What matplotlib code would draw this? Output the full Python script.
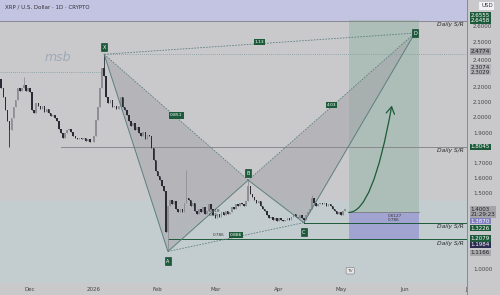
import numpy as np
import pandas as pd
import matplotlib
matplotlib.use("Agg")
import matplotlib.pyplot as plt
import matplotlib.dates as mdates
from matplotlib.patches import Polygon, Rectangle

# daily closes XRP/USD, 2025-11-17 .. 2026-05-03
closes = [
    2.20, 2.14, 2.05, 1.98, 1.92, 2.00, 2.07, 2.12, 2.20, 2.18, 2.20, 2.22, 2.18, 2.20,
    2.17, 2.05, 2.03, 2.10, 2.08, 2.06, 2.08, 2.04, 2.06, 2.03, 2.01, 2.02, 2.00, 1.98,
    1.93, 1.90, 1.87, 1.90, 1.92, 1.93, 1.91, 1.88, 1.87, 1.86, 1.87, 1.86, 1.87, 1.85,
    1.86, 1.84, 1.84, 1.88, 1.99, 2.07, 2.20, 2.33, 2.28, 2.14, 2.10, 2.12, 2.07, 2.08,
    2.06, 2.08, 2.14, 2.07, 2.05, 2.02, 1.98, 1.95, 1.97, 1.92, 1.94, 1.90, 1.88, 1.91,
    1.86, 1.89, 1.88, 1.80, 1.72, 1.65, 1.62, 1.59, 1.55, 1.52, 1.25, 1.42, 1.46, 1.43,
    1.45, 1.40, 1.38, 1.40, 1.38, 1.44, 1.47, 1.46, 1.42, 1.44, 1.39, 1.37, 1.40, 1.38,
    1.41, 1.37, 1.39, 1.43, 1.40, 1.36, 1.34, 1.37, 1.35, 1.38, 1.36, 1.39, 1.37, 1.38,
    1.41, 1.40, 1.43, 1.42, 1.44, 1.43, 1.42, 1.45, 1.55, 1.50, 1.48, 1.46, 1.44, 1.45,
    1.42, 1.40, 1.39, 1.36, 1.34, 1.35, 1.33, 1.34, 1.32, 1.34, 1.33, 1.32, 1.33, 1.34,
    1.33, 1.35, 1.37, 1.35, 1.34, 1.36, 1.34, 1.33, 1.36, 1.38, 1.40, 1.47, 1.44, 1.42,
    1.43, 1.44, 1.43, 1.44, 1.42, 1.43, 1.42, 1.40, 1.39, 1.37, 1.38, 1.36, 1.39, 1.40,
]
first_open = 2.26
wick_highs = {"2025-11-28": 2.27, "2026-01-06": 2.42, "2026-02-15": 1.66,
              "2026-03-17": 1.59, "2026-04-17": 1.49}
wick_lows = {"2025-11-21": 1.81, "2026-02-06": 1.12, "2026-04-13": 1.31}

# XABCD pattern
pat_names = ["X", "A", "B", "C", "D"]
pat_dates = ["2026-01-06", "2026-02-06", "2026-03-17", "2026-04-13", "2026-06-06"]
pat_prices = [2.42, 1.12, 1.59, 1.31, 2.56]
ratio_text = {"XB": "0.851", "XD": "1.13", "BD": "4.03", "AC": "0.886"}

# long position tool
pos_start, pos_end = "2026-05-05", "2026-06-08"
pos_target, pos_entry, pos_stop = 2.646, 1.38, 1.195

price_ticks = [2.6, 2.5, 2.4, 2.2, 2.1, 2.0, 1.9, 1.7, 1.6, 1.5, 1.0]
# (text, price, face, text colour)
tags = [
    ("2.6555", 2.679, "#1d5a3a", "white"),
    ("2.6458", 2.640, "#1d5a3a", "white"),
    ("2.4774", 2.438, "#9c9ca0", "#222222"),
    ("2.3074", 2.336, "#b4b4b8", "#222222"),
    ("2.3029", 2.303, "#b4b4b8", "#222222"),
    ("1.8045", 1.809, "#1d5a3a", "white"),
    ("1.4003\n21:29:23", 1.38, "#a4a4a8", "#222222"),
    ("1.3870", 1.32, "#8080c0", "white"),
    ("1.3226", 1.274, "#1d5a3a", "white"),
    ("1.2079", 1.205, "#1d5a3a", "white"),
    ("1.1984", 1.163, "#2c2c50", "white"),
    ("1.1166", 1.11, "#a8a8ac", "#222222"),
]
sr_levels = [2.640, 1.809, 1.307, 1.200]
sr_starts = ["2025-11-10", "2025-12-16", "2026-04-13", "2026-02-06"]
month_pos = ["2025-12-01", "2026-01-01", "2026-02-01", "2026-03-01", "2026-04-01",
             "2026-05-01", "2026-06-01", "2026-07-01"]
month_lbl = ["Dec", "2026", "Feb", "Mar", "Apr", "May", "Jun", "J"]

BG = "#c9c9cc"
LINE = "#5d7f7e"
GREEN = "#1d5a3a"

dates = pd.date_range("2025-11-17", periods=len(closes), freq="D")
opens = [first_open] + closes[:-1]
df = pd.DataFrame({"open": opens, "close": closes}, index=dates)
df["high"] = df[["open", "close"]].max(axis=1)
df["low"] = df[["open", "close"]].min(axis=1)
for d, v in wick_highs.items():
    df.loc[d, "high"] = v
for d, v in wick_lows.items():
    df.loc[d, "low"] = v

fig = plt.figure(figsize=(5, 2.95), dpi=100, facecolor=BG)
ax = fig.add_axes([0, 12 / 295, 467 / 500, 283 / 295])
ax.set_facecolor(BG)
x0 = mdates.date2num(pd.Timestamp("2025-11-17")) - 0.6
x1 = mdates.date2num(pd.Timestamp("2026-07-01")) + 0.3
ax.set_xlim(x0, x1)
ax.set_ylim(0.912, 2.778)
for s in ax.spines.values():
    s.set_visible(False)
ax.set_xticks([])
ax.set_yticks([])

# tinted bands of the pane
ax.axhspan(2.640, 2.778, color="#c3c3e2", zorder=0)
ax.axhspan(0.912, 1.45, color="#bfd0d3", alpha=0.6, zorder=0)

xn = mdates.date2num(df.index)
up = df["close"] >= df["open"]
col = np.where(up, "#8e8e94", "#2b2b36")
ax.vlines(xn, df["low"], df["high"], colors=col, lw=0.6, zorder=3)
ax.bar(xn, np.maximum((df["close"] - df["open"]).abs(), 0.004),
       bottom=df[["open", "close"]].min(axis=1), width=0.75, color=col, zorder=3)

# horizontal levels
lt = mdates.date2num(pd.Timestamp("2026-07-01")) + 1
for lev, st in zip(sr_levels, sr_starts):
    c = "#8a8a8e" if lev > 1.5 else GREEN
    ax.plot([mdates.date2num(pd.Timestamp(st)), lt], [lev, lev], color=c, lw=0.7, zorder=2)
    ax.text(0.992, lev - 0.025, "Daily S/R", transform=ax.get_yaxis_transform(),
            ha="right", va="center", fontsize=4.3, style="italic", color="#2a2a2a", zorder=6)
px = mdates.date2num(pd.to_datetime(pat_dates))
pp = np.array(pat_prices)
ax.plot([px[0], lt], [pp[0], pp[0]], ls=(0, (1, 1.5)), color="#7f9c9c", lw=0.6, zorder=2)
ax.plot([x0, px[0]], [2.303, 2.303], ls=(0, (1, 1.5)), color="#7f9c9c", lw=0.6, zorder=2)

# position box
ps, pe = mdates.date2num(pd.Timestamp(pos_start)), mdates.date2num(pd.Timestamp(pos_end))
ax.add_patch(Rectangle((ps, pos_entry), pe - ps, pos_target - pos_entry,
                       facecolor="#a3bbb0", alpha=0.75, edgecolor="none", zorder=1))
ax.add_patch(Rectangle((ps, pos_stop), pe - ps, pos_entry - pos_stop,
                       facecolor="#9c9cd2", alpha=0.85, edgecolor="none", zorder=1))
ax.plot([ps, pe], [pos_entry, pos_entry], color="#7c7c80", lw=0.6, zorder=2)
ax.text(ps + 19, pos_entry - 0.012, "0.6127\n0.786", fontsize=3, color="#333333",
        linespacing=0.9, va="top", zorder=6)

# XABCD pattern
for tri in ([0, 1, 2], [2, 3, 4]):
    ax.add_patch(Polygon(np.c_[px[tri], pp[tri]], closed=True, facecolor="#a6a6aa",
                         alpha=0.55, edgecolor="none", zorder=1))
ax.plot(px, pp, color=LINE, lw=0.7, zorder=4)
for a, b, key in ((0, 2, "XB"), (0, 4, "XD"), (2, 4, "BD"), (1, 3, "AC")):
    ax.plot(px[[a, b]], pp[[a, b]], color=LINE, lw=0.6, ls=(0, (2, 1.5)), zorder=4)
    ax.text((px[a] + px[b]) / 2, (pp[a] + pp[b]) / 2 + 0.012, ratio_text[key], fontsize=3.2,
            color="white", ha="center", va="center", zorder=7,
            bbox=dict(boxstyle="square,pad=0.25", fc=GREEN, ec="none"))
offs = [5, -7, 5, -7, 0]
for n, xx, yy, o in zip(pat_names, px, pp, offs):
    ax.annotate(n, (xx, yy), xytext=(0, o), textcoords="offset points", fontsize=3.5,
                color="white", ha="center", va="center", zorder=8,
                bbox=dict(boxstyle="square,pad=0.3", fc=GREEN, ec="#0d3a22", lw=0.4))
ax.text(px[1] + 20, 1.355, "0.618\n0.66", fontsize=3, color="#333333", linespacing=0.9, zorder=6)
ax.text(px[1] + 22, 1.22, "0.786", fontsize=3, color="#333333", zorder=6)

# projected path arrow
ax.annotate("", xy=(mdates.date2num(pd.Timestamp("2026-05-26")), 2.10),
            xytext=(xn[-1] + 0.5, pos_entry),
            arrowprops=dict(arrowstyle="->,head_length=0.5,head_width=0.3", color=GREEN,
                            lw=0.9, connectionstyle="angle3,angleA=-15,angleB=80"), zorder=7)

ax.text(0.01, 0.985, "XRP / U.S. Dollar · 1D · CRYPTO", transform=ax.transAxes,
        fontsize=4, color="#333333", va="top")
ax.text(0.095, 0.785, "msb", transform=ax.transAxes, fontsize=9, style="italic",
        color="#9aa6b4", alpha=0.9)
ax.text(0.75, 0.04, "TV", transform=ax.transAxes, fontsize=3.2, color="#555555",
        ha="center", bbox=dict(boxstyle="round,pad=0.3", fc="#e6e6e6", ec="#777777", lw=0.4))

# price scale
trans = ax.get_yaxis_transform()
for t in price_ticks:
    ax.text(1.013, t - (0.02 if t == 2.4 else 0), f"{t:.4f}", transform=trans, fontsize=4,
            color="#444444", va="center", ha="left", clip_on=False)
for txt, p, fc, tc in tags:
    ax.text(1.008, p, txt, transform=trans, fontsize=4, color=tc, va="center", ha="left",
            clip_on=False, linespacing=1.0, zorder=9,
            bbox=dict(boxstyle="square,pad=0.15", fc=fc, ec="none"))
ax.text(1.03, 2.74, "USD", transform=trans, fontsize=4, color="#333333", va="center",
        clip_on=False, bbox=dict(boxstyle="square,pad=0.3", fc="#f2f2f6", ec="none"))
fig.add_artist(plt.Line2D([467 / 500, 467 / 500], [0, 1], color="#8a8a8e", lw=0.7))

# time scale
for d, l in zip(month_pos, month_lbl):
    xd = mdates.date2num(pd.Timestamp(d))
    ax.text(xd, -0.022, l, transform=ax.get_xaxis_transform(), fontsize=4,
            color="#444444", ha="center", va="center", clip_on=False)

fig.savefig("out.png", dpi=100, facecolor=BG)
